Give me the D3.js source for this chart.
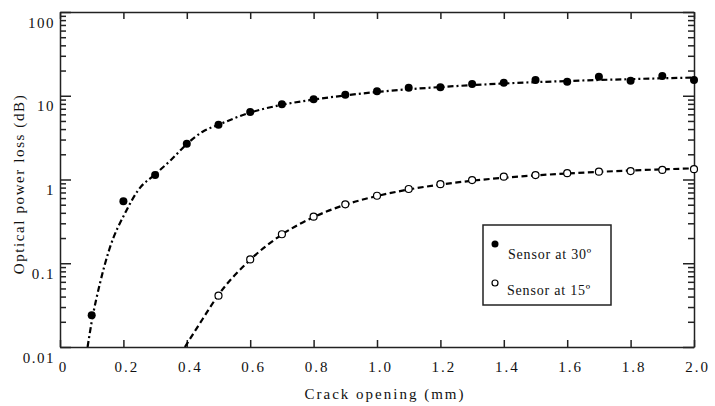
<!DOCTYPE html>
<html>
<head>
<meta charset="utf-8">
<script src="https://cdn.jsdelivr.net/npm/d3@7"></script>
<style>
  body { margin: 0; background: #fff; }
</style>
</head>
<body>
<div id="chart"></div>
<script>
// crack opening (mm) for the measured points
var crack30 = [0.1, 0.2, 0.3, 0.4, 0.5, 0.6, 0.7, 0.8, 0.9, 1.0, 1.1, 1.2, 1.3, 1.4, 1.5, 1.6, 1.7, 1.8, 1.9, 2.0];
var loss30 = [0.024, 0.55, 1.13, 2.67, 4.5, 6.4, 7.9, 9.1, 10.3, 11.3, 12.5, 12.6, 13.8, 14.3, 15.4, 14.7, 16.9, 15.1, 17.2, 15.4];

var crack15 = [0.5, 0.6, 0.7, 0.8, 0.9, 1.0, 1.1, 1.2, 1.3, 1.4, 1.5, 1.6, 1.7, 1.8, 1.9, 2.0];
var loss15 = [0.041, 0.111, 0.222, 0.36, 0.506, 0.64, 0.77, 0.88, 0.985, 1.08, 1.13, 1.19, 1.24, 1.26, 1.30, 1.33];

// fitted curves
var fit30X = [0.087, 0.1, 0.126, 0.155, 0.21, 0.247, 0.3, 0.35, 0.4, 0.45, 0.5, 0.6, 0.7, 0.8, 0.9, 1.0, 1.2, 1.4, 1.6, 1.8, 2.0];
var fit30Y = [0.01, 0.02, 0.0575, 0.144, 0.43, 0.75, 1.15, 1.71, 2.65, 3.72, 4.5, 6.3, 7.8, 9.0, 10.1, 11.1, 12.7, 14.0, 15.0, 15.8, 16.5];
var fit15X = [0.394, 0.45, 0.5, 0.6, 0.7, 0.8, 0.9, 1.0, 1.1, 1.2, 1.4, 1.6, 1.8, 2.0];
var fit15Y = [0.01, 0.0216, 0.042, 0.11, 0.22, 0.355, 0.50, 0.635, 0.76, 0.87, 1.05, 1.18, 1.28, 1.36];

var xTicks = [0, 0.2, 0.4, 0.6, 0.8, 1.0, 1.2, 1.4, 1.6, 1.8, 2.0];
var yMajor = [0.01, 0.1, 1, 10, 100];
var yLabels = ['0.01', '0.1', '1', '10', '100'];
var legendLabels = ['Sensor at 30º', 'Sensor at 15º'];

var width = 715, height = 406;
var plotLeft = 60, plotRight = 694, plotTop = 12, plotBottom = 347;
var serif = "'Liberation Serif', 'Times New Roman', 'DejaVu Serif', serif";

var svg = d3.select('#chart').append('svg')
    .attr('width', width)
    .attr('height', height)
    .style('font-family', serif);

var x = d3.scaleLinear().domain([0, 2]).range([plotLeft, plotRight]);
var y = d3.scaleLog().domain([0.01, 100]).range([plotBottom, plotTop]);

// minor ticks 2..9 in each decade
var yMinor = [];
for (let d = 0; d < 4; d++) {
    for (let m = 2; m <= 9; m++) {
        yMinor.push(yMajor[d] * m);
    }
}

svg.append('defs').append('clipPath').attr('id', 'plot')
    .append('rect')
    .attr('x', plotLeft).attr('y', plotTop)
    .attr('width', plotRight - plotLeft).attr('height', plotBottom - plotTop);

// bottom axis
var xAxis = svg.append('g')
    .attr('class', 'axis')
    .attr('transform', 'translate(0,' + plotBottom + ')')
    .call(d3.axisBottom(x).tickValues(xTicks).tickSizeInner(-7).tickSizeOuter(0)
        .tickFormat(d => d === 0 ? '0' : d3.format('.1f')(d)));
xAxis.selectAll('text')
    .attr('y', 25).attr('dy', 0).attr('dx', 3)
    .style('font-size', '15px')
    .style('letter-spacing', '2px');

// top axis, ticks only
svg.append('g')
    .attr('class', 'axis')
    .attr('transform', 'translate(0,' + plotTop + ')')
    .call(d3.axisTop(x).tickValues(xTicks).tickSizeInner(-7).tickSizeOuter(0).tickFormat(''));

// left axis
var yAxis = svg.append('g')
    .attr('class', 'axis')
    .attr('transform', 'translate(' + plotLeft + ',0)')
    .call(d3.axisLeft(y).tickValues(yMajor).tickSizeInner(-11).tickSizeOuter(0)
        .tickFormat((d, i) => yLabels[i]));
yAxis.selectAll('text')
    .attr('x', -5).attr('dy', 15)
    .style('font-size', '15px')
    .style('letter-spacing', '1.5px');
svg.append('g')
    .attr('class', 'axis')
    .attr('transform', 'translate(' + plotLeft + ',0)')
    .call(d3.axisLeft(y).tickValues(yMinor).tickSizeInner(-6).tickSizeOuter(0).tickFormat(''))
    .select('.domain').remove();

// right axis, ticks only
svg.append('g')
    .attr('class', 'axis')
    .attr('transform', 'translate(' + plotRight + ',0)')
    .call(d3.axisRight(y).tickValues(yMajor).tickSizeInner(-11).tickSizeOuter(0).tickFormat(''));
svg.append('g')
    .attr('class', 'axis')
    .attr('transform', 'translate(' + plotRight + ',0)')
    .call(d3.axisRight(y).tickValues(yMinor).tickSizeInner(-6).tickSizeOuter(0).tickFormat(''))
    .select('.domain').remove();

svg.selectAll('.axis').attr('font-family', null);
svg.selectAll('.axis path, .axis line').attr('stroke', '#222').attr('stroke-width', 1.5);

// fitted curves
var line = d3.line()
    .x(d => x(d[0]))
    .y(d => y(d[1]))
    .curve(d3.curveMonotoneX);

var plot = svg.append('g').attr('clip-path', 'url(#plot)');

plot.append('path')
    .datum(d3.zip(fit30X, fit30Y))
    .attr('d', line)
    .attr('fill', 'none')
    .attr('stroke', '#000')
    .attr('stroke-width', 2.2)
    .attr('stroke-dasharray', '6,3,2,3');

plot.append('path')
    .datum(d3.zip(fit15X, fit15Y))
    .attr('d', line)
    .attr('fill', 'none')
    .attr('stroke', '#000')
    .attr('stroke-width', 2.2)
    .attr('stroke-dasharray', '6,3.5');

// measured points
svg.append('g').selectAll('circle')
    .data(d3.zip(crack30, loss30))
    .join('circle')
    .attr('cx', d => x(d[0]))
    .attr('cy', d => y(d[1]))
    .attr('r', 4)
    .attr('fill', '#000');

svg.append('g').selectAll('circle')
    .data(d3.zip(crack15, loss15))
    .join('circle')
    .attr('cx', d => x(d[0]))
    .attr('cy', d => y(d[1]))
    .attr('r', 3.5)
    .attr('fill', '#fff')
    .attr('stroke', '#000')
    .attr('stroke-width', 1.2);

// axis titles
svg.append('text')
    .attr('x', 385)
    .attr('y', 399)
    .attr('text-anchor', 'middle')
    .style('font-size', '15px')
    .style('letter-spacing', '2px')
    .text('Crack opening (mm)');

svg.append('text')
    .attr('transform', 'translate(24,184) rotate(-90)')
    .attr('text-anchor', 'middle')
    .style('font-size', '15px')
    .style('letter-spacing', '1.6px')
    .text('Optical power loss (dB)');

// legend
var legend = svg.append('g');
legend.append('rect')
    .attr('x', 483).attr('y', 225)
    .attr('width', 128).attr('height', 80)
    .attr('fill', '#fff')
    .attr('stroke', '#222')
    .attr('stroke-width', 1.5);
legend.append('circle')
    .attr('cx', 495).attr('cy', 244).attr('r', 3.5)
    .attr('fill', '#000');
legend.append('circle')
    .attr('cx', 495).attr('cy', 283).attr('r', 3)
    .attr('fill', '#fff').attr('stroke', '#000').attr('stroke-width', 1.2);
legend.selectAll('text.lbl')
    .data(legendLabels)
    .join('text')
    .attr('class', 'lbl')
    .attr('x', (d, i) => i === 0 ? 508 : 507)
    .attr('y', (d, i) => i === 0 ? 259 : 295)
    .style('font-size', '14px')
    .style('letter-spacing', '0.8px')
    .text(d => d);

svg.selectAll('text').style('font-family', serif).attr('fill', '#111');
</script>
</body>
</html>
